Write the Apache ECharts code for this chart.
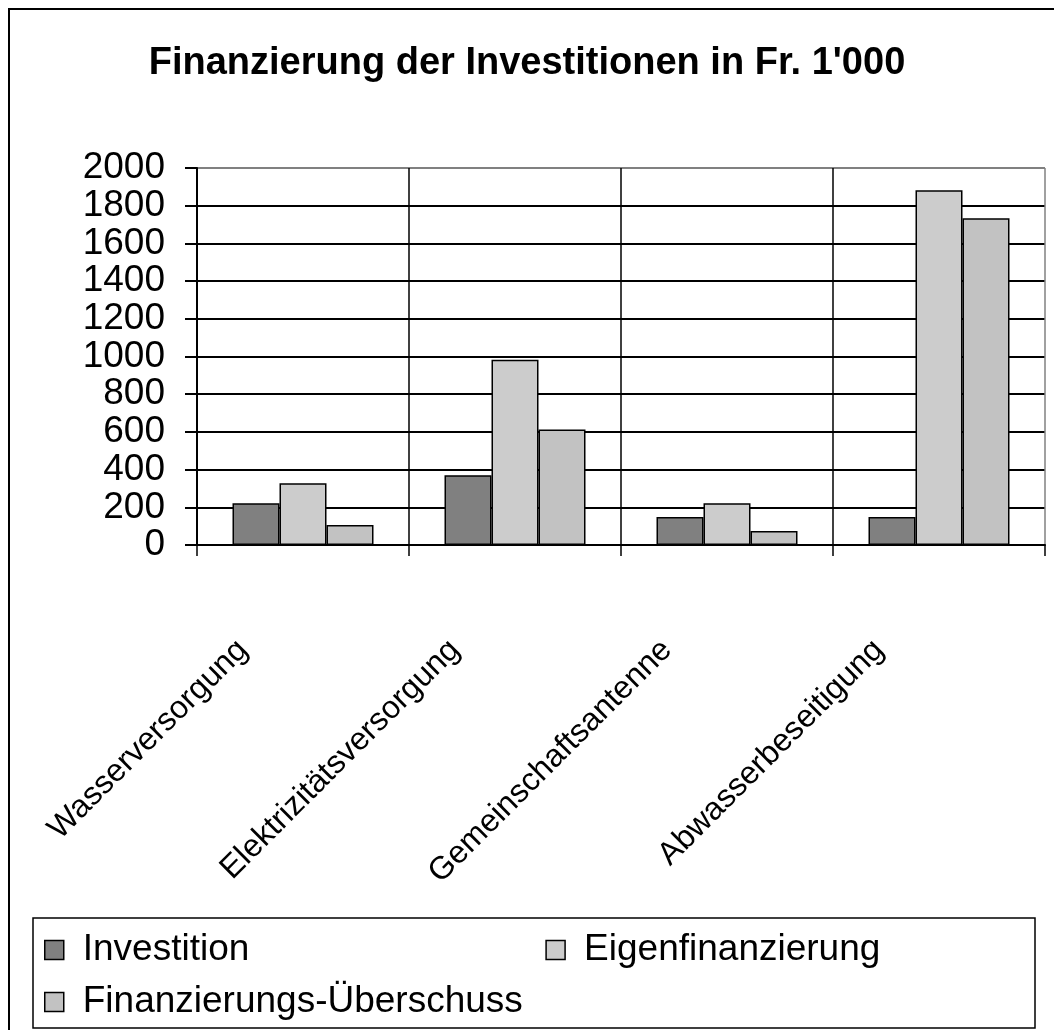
<!DOCTYPE html>
<html>
<head>
<meta charset="utf-8">
<script src="https://cdn.jsdelivr.net/npm/echarts@6/dist/echarts.min.js"></script>
<style>
  html, body { margin: 0; padding: 0; background: #fff; }
  #chart { width: 1054px; height: 1030px; }
</style>
</head>
<body>
<div id="chart"></div>
<script>
const categories = ['Wasserversorgung', 'Elektrizitätsversorgung', 'Gemeinschaftsantenne', 'Abwasserbeseitigung'];
const investition = [222, 370, 148, 148];
const eigenfinanzierung = [328, 983, 222, 1882];
const ueberschuss = [106, 613, 74, 1734];
const seriesNames = ['Investition', 'Eigenfinanzierung', 'Finanzierungs-Überschuss'];
const yMin = 0, yMax = 2000, yInterval = 200;
const titleText = "Finanzierung der Investitionen in Fr. 1'000";

const FONT = "'Liberation Sans', Arial, sans-serif";
const chart = echarts.init(document.getElementById('chart'), null, { renderer: 'canvas' });

const ySplitColors = [];
for (let v = yMin; v <= yMax; v += yInterval) ySplitColors.push(v === yMax ? '#808080' : '#000000');
const xSplitColors = categories.map(() => '#000000').concat(['#808080']);

const barStyle = (c) => ({ color: c, borderColor: '#000', borderWidth: 1.5 });

chart.setOption({
  animation: false,
  backgroundColor: '#ffffff',
  title: {
    text: titleText,
    left: 'center',
    top: 45,
    padding: 0,
    textStyle: { fontFamily: FONT, fontSize: 38, fontWeight: 'bold', color: '#000', lineHeight: 38 }
  },
  graphic: [
    { type: 'rect', shape: { x: 9, y: 9, width: 1100, height: 1100 }, style: { fill: 'none', stroke: '#000', lineWidth: 2 }, silent: true },
    { type: 'rect', shape: { x: 33, y: 918, width: 1002, height: 110 }, style: { fill: 'none', stroke: '#000', lineWidth: 1.5 }, silent: true }
  ],
  legend: [
    {
      data: [seriesNames[0], seriesNames[1]],
      left: 44, top: 930, padding: 0,
      itemGap: 296, itemWidth: 19, itemHeight: 19, icon: 'rect',
      itemStyle: { borderColor: '#000', borderWidth: 1.5 },
      textStyle: { fontFamily: FONT, fontSize: 37, color: '#000', lineHeight: 40, padding: [0, 0, 0, 14] },
      selectedMode: false
    },
    {
      data: [seriesNames[2]],
      left: 44, top: 982, padding: 0,
      itemWidth: 19, itemHeight: 19, icon: 'rect',
      itemStyle: { borderColor: '#000', borderWidth: 1.5 },
      textStyle: { fontFamily: FONT, fontSize: 37, color: '#000', lineHeight: 40, padding: [0, 0, 0, 14] },
      selectedMode: false
    }
  ],
  grid: { left: 197, right: 9, top: 168, bottom: 485, containLabel: false },
  xAxis: {
    type: 'category',
    data: categories,
    boundaryGap: true,
    axisLine: { show: true, lineStyle: { color: '#000', width: 2 } },
    axisTick: { show: true, interval: 0, length: 11, lineStyle: { color: '#000', width: 1.5 } },
    splitLine: { show: true, interval: 0, lineStyle: { color: xSplitColors, width: 1.5 } },
    axisLabel: {
      interval: 0, rotate: 45, margin: 40, padding: [0, 85, 0, 0],
      fontFamily: FONT, fontSize: 32, color: '#000'
    }
  },
  yAxis: {
    type: 'value',
    min: yMin, max: yMax, interval: yInterval,
    axisLine: { show: true, lineStyle: { color: '#000', width: 2 } },
    axisTick: { show: true, length: 12, lineStyle: { color: '#000', width: 2 } },
    splitLine: { show: true, lineStyle: { color: ySplitColors, width: 2 } },
    axisLabel: { margin: 32, fontFamily: FONT, fontSize: 37, color: '#000', formatter: (v) => String(v) }
  },
  series: [
    { name: seriesNames[0], type: 'bar', data: investition, barWidth: 47, barGap: '0%', itemStyle: barStyle('#808080') },
    { name: seriesNames[1], type: 'bar', data: eigenfinanzierung, barWidth: 47, barGap: '0%', itemStyle: barStyle('#cccccc') },
    { name: seriesNames[2], type: 'bar', data: ueberschuss, barWidth: 47, barGap: '0%', itemStyle: barStyle('#c2c2c2') }
  ]
});
</script>
</body>
</html>
